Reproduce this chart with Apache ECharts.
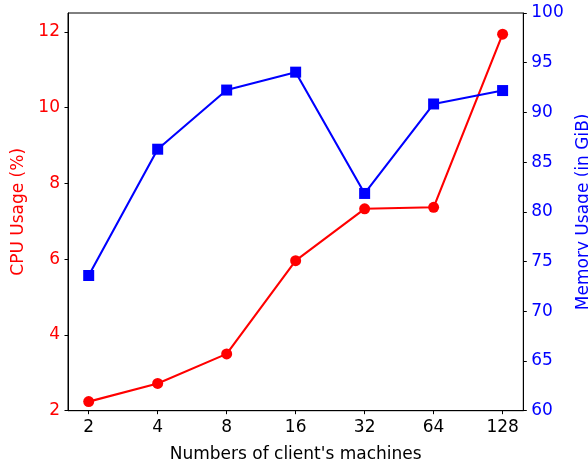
<!DOCTYPE html>
<html>
<head>
<meta charset="utf-8">
<script src="https://cdn.jsdelivr.net/npm/echarts@6/dist/echarts.min.js"></script>
<style>
  html, body { margin: 0; padding: 0; background: #fff; }
  #chart { width: 588px; height: 469px; }
</style>
</head>
<body>
<div id="chart"></div>
<script>
// Number of client machines (x categories)
const clients = ['2', '4', '8', '16', '32', '64', '128'];
// CPU usage in percent, left axis
const cpuUsage = [2.24, 2.72, 3.50, 5.96, 7.33, 7.37, 11.94];
// Memory usage in GiB, right axis
const memUsage = [73.6, 86.3, 92.25, 94.05, 81.85, 90.85, 92.2];
// Tick values
const cpuTicks = [2, 4, 6, 8, 10, 12];
const memTicks = [60, 65, 70, 75, 80, 85, 90, 95, 100];

const FONT = 'DejaVu Sans';
const FS = 17;

const xIdx = clients.map((_, i) => i);

const chart = echarts.init(document.getElementById('chart'), null, { renderer: 'canvas' });
chart.setOption({
  animation: false,
  backgroundColor: '#ffffff',
  textStyle: { fontFamily: FONT },
  grid: {
    left: 68, top: 13, right: 64.7, bottom: 58.3,
    outerBoundsMode: 'none',
    containLabel: false,
    show: true, borderColor: '#000', borderWidth: 1, backgroundColor: 'transparent'
  },
  xAxis: {
    type: 'value',
    min: -0.3, max: 6.3,
    name: "Numbers of client's machines",
    nameLocation: 'middle',
    nameGap: 35,
    nameTextStyle: { fontFamily: FONT, fontSize: FS, color: '#000' },
    axisLine: { show: true, onZero: false, lineStyle: { color: '#000', width: 1 } },
    axisTick: { show: true, length: 3.5, lineStyle: { color: '#000', width: 1 }, customValues: xIdx },
    axisLabel: {
      fontFamily: FONT, fontSize: FS, color: '#000', margin: 8,
      customValues: xIdx,
      formatter: v => clients[Math.round(v)]
    },
    splitLine: { show: false }
  },
  yAxis: [
    {
      type: 'value',
      position: 'left',
      min: 2, max: 12.5,
      name: 'CPU Usage (%)',
      nameLocation: 'middle',
      nameGap: 40,
      nameTextStyle: { fontFamily: FONT, fontSize: FS, color: '#ff0000' },
      axisLine: { show: true, onZero: false, lineStyle: { color: '#000', width: 1 } },
      axisTick: { show: true, length: 3.5, lineStyle: { color: '#000', width: 1 }, customValues: cpuTicks },
      axisLabel: { fontFamily: FONT, fontSize: FS, color: '#ff0000', margin: 8, customValues: cpuTicks },
      splitLine: { show: false }
    },
    {
      type: 'value',
      position: 'right',
      min: 60, max: 100, interval: 5,
      name: 'Memory Usage (in GiB)',
      nameLocation: 'middle',
      nameGap: 50,
      nameTextStyle: { fontFamily: FONT, fontSize: FS, color: '#0000ff' },
      axisLine: { show: true, onZero: false, lineStyle: { color: '#000', width: 1 } },
      axisTick: { show: true, length: 3.5, lineStyle: { color: '#000', width: 1 }, customValues: memTicks },
      axisLabel: { fontFamily: FONT, fontSize: FS, color: '#0000ff', margin: 8, customValues: memTicks },
      splitLine: { show: false }
    }
  ],
  series: [
    {
      name: 'CPU',
      type: 'line',
      yAxisIndex: 0,
      data: cpuUsage.map((v, i) => [xIdx[i], v]),
      symbol: 'circle',
      symbolSize: 11,
      lineStyle: { color: '#ff0000', width: 2.1 },
      itemStyle: { color: '#ff0000' },
      z: 2
    },
    {
      name: 'Memory',
      type: 'line',
      yAxisIndex: 1,
      data: memUsage.map((v, i) => [xIdx[i], v]),
      symbol: 'rect',
      symbolSize: 11,
      lineStyle: { color: '#0000ff', width: 2.1 },
      itemStyle: { color: '#0000ff' },
      z: 3
    }
  ]
});
</script>
</body>
</html>
